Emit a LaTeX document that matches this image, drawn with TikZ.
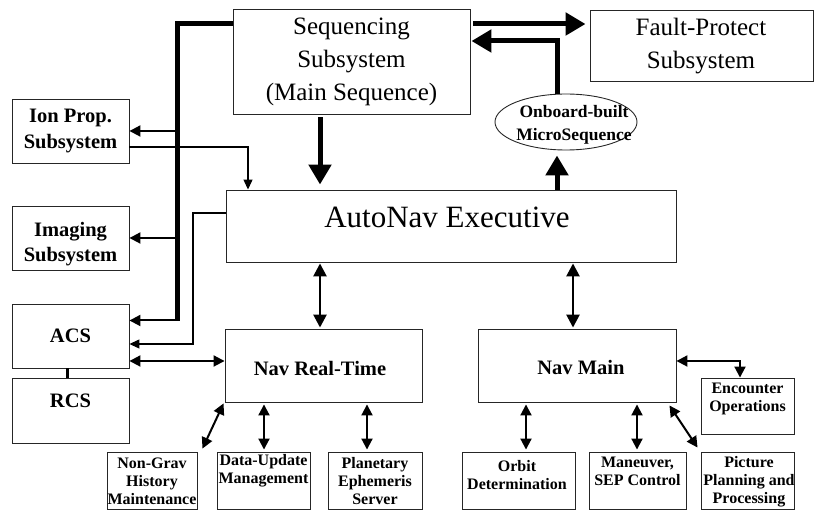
\documentclass[tikz,border=0pt]{standalone}
\usepackage{fontspec}
\setmainfont{Liberation Serif}
\usetikzlibrary{arrows.meta,shapes.geometric}
\begin{document}
\begin{tikzpicture}[x=1pt,y=-1pt,
  box/.style={draw=black!85, line width=0.9pt, rectangle, inner sep=0pt},
  txt/.style={inner sep=0pt, align=center},
  bigtxt/.style={txt, font=\fontsize{25}{33}\selectfont},
  hugetxt/.style={txt, font=\fontsize{31}{37}\selectfont},
  medtxt/.style={txt, font=\bfseries\fontsize{20.5}{25.5}\selectfont},
  elltxt/.style={txt, font=\bfseries\fontsize{17.5}{23}\selectfont},
  smtxt/.style={txt, font=\bfseries\fontsize{16}{18}\selectfont},
  thickarr/.style={line width=5pt, line join=miter, -{Triangle[length=20pt,width=22pt]}},
  bus/.style={line width=5pt, line join=miter},
  dbl/.style={line width=2.6pt, {Triangle[length=13pt,width=13pt]}-{Triangle[length=13pt,width=13pt]}},
  dbltwo/.style={line width=2pt, line join=miter, {Triangle[length=11pt,width=11pt]}-{Triangle[length=11pt,width=11pt]}},
  brarr/.style={line width=2pt, -{Triangle[length=11pt,width=11pt]}},
  thinarr/.style={line width=1.2pt, line join=miter, -{Triangle[length=10pt,width=9pt]}},
]
\useasboundingbox (0,0) rectangle (815,510);

% boxes
\node[box, minimum width=237pt, minimum height=105pt] (seq) at (351.5,61.5) {};
\node[bigtxt] (tseq) at (351.5,62) {Sequencing\\Subsystem\\(Main Sequence)};
\node[box, minimum width=223pt, minimum height=71pt] (fault) at (701.5,45.5) {};
\node[bigtxt] (tfault) at (701,46) {Fault-Protect\\Subsystem};
\node[box, minimum width=450pt, minimum height=72pt] (autonav) at (451,226) {};
\node[hugetxt, anchor=base] (tautonav) at (447,228) {AutoNav Executive};
\node[draw=black!85, line width=0.9pt, ellipse, minimum width=142pt, minimum height=56pt, inner sep=0pt] (micro) at (566,122) {};
\node[elltxt] (tmicro) at (574,125) {Onboard-built\\MicroSequence};

\node[box, minimum width=117pt, minimum height=64pt] (ion) at (70.5,131) {};
\node[medtxt] (tion) at (70.5,131) {Ion Prop.\\Subsystem};
\node[box, minimum width=117pt, minimum height=64pt] (img) at (70.5,238) {};
\node[medtxt] (timg) at (70.5,244) {Imaging\\Subsystem};
\node[box, minimum width=117pt, minimum height=64pt] (acs) at (70.5,336) {};
\node[medtxt, anchor=base] (tacs) at (70.5,343) {ACS};
\node[box, minimum width=117pt, minimum height=65pt] (rcs) at (70.5,410.5) {};
\node[medtxt, anchor=base] (trcs) at (70.5,408) {RCS};

\node[box, minimum width=197pt, minimum height=73pt] (navrt) at (323.5,365.5) {};
\node[medtxt, anchor=base] (tnavrt) at (320,376) {Nav Real-Time};
\node[box, minimum width=198pt, minimum height=73pt] (navmain) at (577,365.5) {};
\node[medtxt, anchor=base] (tnavmain) at (581,375) {Nav Main};
\node[box, minimum width=93pt, minimum height=56pt] (enc) at (747.5,406) {};
\node[smtxt] (tenc) at (747.5,399) {Encounter\\Operations};

\node[box, minimum width=90pt, minimum height=57pt] (nongrav) at (152,480.5) {};
\node[smtxt] (tnongrav) at (152,481) {Non-Grav\\History\\Maintenance};
\node[box, minimum width=93pt, minimum height=57pt] (data) at (263.5,480.5) {};
\node[smtxt] (tdata) at (263.5,471) {Data-Update\\Management};
\node[box, minimum width=94pt, minimum height=57pt] (planet) at (375,480.5) {};
\node[smtxt] (tplanet) at (375,481) {Planetary\\Ephemeris\\Server};
\node[box, minimum width=113pt, minimum height=57pt] (orbit) at (518.5,480.5) {};
\node[smtxt] (torbit) at (517,475) {Orbit\\Determination};
\node[box, minimum width=97pt, minimum height=57pt] (maneuver) at (637.5,480.5) {};
\node[smtxt] (tmaneuver) at (637.5,471) {Maneuver,\\SEP Control};
\node[box, minimum width=93pt, minimum height=57pt] (pic) at (747.5,480.5) {};
\node[smtxt] (tpic) at (749,482) {Picture\\Planning and\\Processing};

% helper coordinates
\coordinate (busT) at (177.5,24);
\coordinate (busB) at (177.5,321.5);
\coordinate (busA) at (177.5,320.5);
\coordinate (xs) at (320,0);
\coordinate (xm) at (573,0);
\coordinate (yb) at (557,41);
\coordinate (ci) at (248,147);
\coordinate (ca1) at (193,213);
\coordinate (ca2) at (193,344);
\coordinate (yr) at (0,361);
\coordinate (xr) at (67,0);
\coordinate (ce) at (740,361);
\coordinate (xa) at (264,0);
\coordinate (xb) at (367,0);
\coordinate (xc) at (526,0);
\coordinate (xd) at (637,0);

% bus from sequencing
\draw[bus] (seq.west |- busT) -- (busT) -- (busB);
\draw[brarr] (busT |- ion.east) -- (ion.east);
\draw[brarr] (busT |- img.east) -- (img.east);
\draw[brarr] (busA) -- (busA -| acs.east);

% thick arrows
\draw[thickarr, shorten <=3pt, shorten >=4pt] (seq.east |- busT) -- (fault.west |- busT);
\draw[thickarr, shorten >=1pt] (micro.north -| yb) -- (yb) -- (seq.east |- yb);
\draw[thickarr, shorten >=5pt] (autonav.north -| yb) -- (micro.south -| yb);
\draw[thickarr, shorten <=3pt, shorten >=5pt] (seq.south -| xs) -- (autonav.north -| xs);

% thin lines
\draw[thinarr] (ion.east |- ci) -- (ci) -- (autonav.north -| ci);
\draw[thinarr] (autonav.west |- ca1) -- (ca1) -- (ca2) -- (acs.east |- ca2);

% double arrows
\draw[dbltwo] (acs.east |- yr) -- (navrt.west |- yr);
\draw[line width=3pt] (acs.south -| xr) -- (rcs.north -| xr);
\draw[dbl, shorten <=1pt, shorten >=1pt] (autonav.south -| xs) -- (navrt.north -| xs);
\draw[dbl, shorten <=1pt, shorten >=1pt] (autonav.south -| xm) -- (navmain.north -| xm);
\draw[dbltwo] (navmain.east |- ce) -- (ce) -- (enc.north -| ce);

\draw[dbltwo] ([xshift=-1pt,yshift=-1pt]navrt.south west) -- ([xshift=5pt,yshift=3pt]nongrav.north east);
\draw[dbltwo, shorten <=2pt, shorten >=2pt] (navrt.south -| xa) -- (data.north -| xa);
\draw[dbltwo, shorten <=2pt, shorten >=2pt] (navrt.south -| xb) -- (planet.north -| xb);
\draw[dbltwo, shorten <=2pt, shorten >=2pt] (navmain.south -| xc) -- (orbit.north -| xc);
\draw[dbltwo, shorten <=2pt, shorten >=2pt] (navmain.south -| xd) -- (maneuver.north -| xd);
\draw[dbltwo] ([xshift=-7pt,yshift=-3pt]navmain.south east) -- ([xshift=-3pt,yshift=4pt]pic.north west);
\end{tikzpicture}
\end{document}
